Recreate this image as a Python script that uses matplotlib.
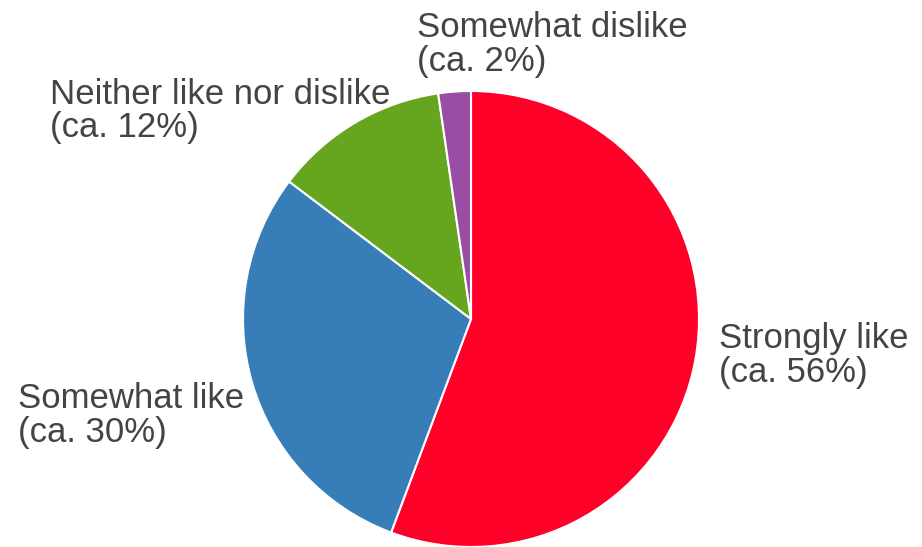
import matplotlib
matplotlib.use("Agg")
import matplotlib.pyplot as plt

categories = ["Strongly like", "Somewhat like", "Neither like nor dislike", "Somewhat dislike"]
values = [55.7, 29.6, 12.4, 2.3]
colors = ["#FF0029", "#377EB8", "#66A61E", "#984EA3"]
label_pos = [(1.087, -0.276), (-1.987, -0.539), (-1.847, 0.798), (-0.237, 1.088)]

W, H = 922, 547
fig = plt.figure(figsize=(W / 100, H / 100), dpi=100)
cx, cy, r = 471, 319, 228
ax = fig.add_axes([(cx - r) / W, (H - cy - r) / H, 2 * r / W, 2 * r / H])
wedges, _ = ax.pie(values, colors=colors, startangle=90, counterclock=False,
                   radius=1, wedgeprops=dict(edgecolor="white", linewidth=1.5))
for w in wedges:
    w.set_clip_on(False)
ax.set_xlim(-1, 1)
ax.set_ylim(-1, 1)
ax.set_aspect("equal")
ax.axis("off")

for cat, v, (x, y) in zip(categories, values, label_pos):
    ax.text(x, y, f"{cat}\n(ca. {round(v)}%)", ha="left", va="baseline",
            fontsize=25, color="#444444", family="Liberation Sans",
            linespacing=1.02, clip_on=False)

fig.savefig("out.png", dpi=100)
